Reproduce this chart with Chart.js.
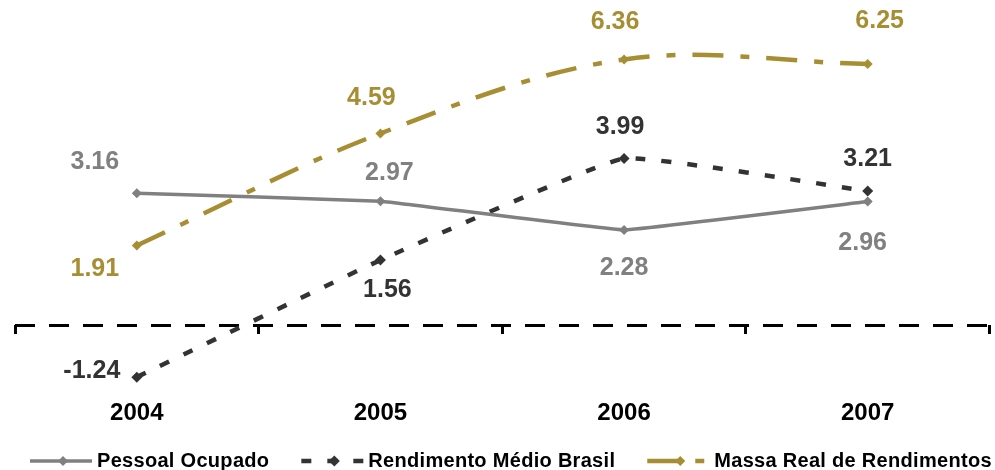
<!DOCTYPE html>
<html>
<head>
<meta charset="utf-8">
<script src="https://cdn.jsdelivr.net/npm/chart.js@4"></script>
<style>
  body { margin: 0; background: #fff; }
  #wrap { width: 995px; height: 470px; }
</style>
</head>
<body>
<div id="wrap"><canvas id="chart" width="995" height="470"></canvas></div>
<script>
// data
var years = ["2004", "2005", "2006", "2007"];
var pessoalOcupado = [3.16, 2.97, 2.28, 2.96];
var rendimentoMedio = [-1.24, 1.56, 3.99, 3.21];
var massaReal = [1.91, 4.59, 6.36, 6.25];
var seriesNames = ["Pessoal Ocupado", "Rendimento Médio Brasil", "Massa Real de Rendimentos"];

var gray = "#808080";
var dark = "#333333";
var gold = "#A88E33";

// where each value label sits relative to its point (dx, dy)
var labelOffsets = [
  [[-42, -31], [9, -28], [0, 38], [-5, 42]],
  [[-45, -6], [7, 30], [-4, -31], [0, -32]],
  [[-42, 24], [-9, -35], [-9, -37], [12, -43]],
];

const valueLabels = {
  id: "valueLabels",
  afterDatasetsDraw(chart) {
    const ctx = chart.ctx;
    ctx.save();
    ctx.font = "bold 25px 'Liberation Sans', Arial, sans-serif";
    ctx.textAlign = "center";
    ctx.textBaseline = "middle";
    chart.data.datasets.forEach((ds, i) => {
      const meta = chart.getDatasetMeta(i);
      ctx.fillStyle = ds.borderColor;
      meta.data.forEach((pt, j) => {
        const off = labelOffsets[i][j];
        ctx.fillText(ds.data[j].toFixed(2), pt.x + off[0], pt.y + off[1]);
      });
    });
    ctx.restore();
  },
};

function diamond(ctx, x, y, r, color) {
  ctx.fillStyle = color;
  ctx.beginPath();
  ctx.moveTo(x, y - r);
  ctx.lineTo(x + r, y);
  ctx.lineTo(x, y + r);
  ctx.lineTo(x - r, y);
  ctx.closePath();
  ctx.fill();
}

const lineLegend = {
  id: "lineLegend",
  afterDraw(chart) {
    const ctx = chart.ctx;
    const y = 461;
    let x = 30;
    ctx.save();
    ctx.font = "bold 20px 'Liberation Sans', Arial, sans-serif";
    ctx.letterSpacing = "0.3px";
    ctx.textBaseline = "middle";
    ctx.textAlign = "left";
    chart.data.datasets.forEach((ds) => {
      ctx.strokeStyle = ds.borderColor;
      ctx.lineWidth = ds.borderWidth;
      ctx.setLineDash(ds.borderDash || []);
      ctx.beginPath();
      ctx.moveTo(x, y);
      ctx.lineTo(x + 62, y);
      ctx.stroke();
      ctx.setLineDash([]);
      diamond(ctx, x + 33, y, ds.pointRadius, ds.borderColor);
      ctx.fillStyle = "#000";
      ctx.fillText(ds.label, x + 67, y);
      x += 67 + ctx.measureText(ds.label).width + 32;
    });
    ctx.restore();
  },
};

function series(label, data, color, dash, width, radius, tension) {
  return {
    label: label,
    data: data,
    borderColor: color,
    backgroundColor: color,
    borderWidth: width,
    borderDash: dash,
    pointStyle: "rectRot",
    pointRadius: radius,
    pointBorderWidth: 0,
    pointBackgroundColor: color,
    tension: tension,
    clip: false,
  };
}

new Chart(document.getElementById("chart"), {
  type: "line",
  data: {
    labels: years,
    datasets: [
      series(seriesNames[0], pessoalOcupado, gray, [], 3.5, 5, 0.05),
      series(seriesNames[1], rendimentoMedio, dark, [10, 16], 4.5, 5.5, 0.1),
      series(seriesNames[2], massaReal, gold, [31, 17, 9, 17], 4.5, 5, 0.35),
    ],
  },
  options: {
    responsive: false,
    animation: false,
    layout: { padding: { left: 15, right: 3, top: 0, bottom: 42 } },
    plugins: {
      legend: { display: false },
      tooltip: { enabled: false },
    },
    scales: {
      x: {
        offset: true,
        afterFit: (axis) => {
          axis.height = 40;
        },
        grid: { display: false },
        border: { display: false },
        ticks: {
          color: "#000",
          padding: 3,
          font: { family: "'Liberation Sans', Arial, sans-serif", size: 24, weight: "bold" },
        },
      },
      x2: {
        type: "category",
        axis: "x",
        position: { y: 0 },
        offset: true,
        grid: {
          offset: true,
          drawOnChartArea: false,
          tickLength: 9,
          tickWidth: 3,
          tickColor: "#000",
          color: "#000",
        },
        border: { display: false },
        ticks: { display: false },
      },
      y: {
        min: -1.5,
        max: 7.65,
        afterBuildTicks: (axis) => {
          axis.ticks = [{ value: 0 }];
        },
        ticks: { display: false },
        grid: { drawTicks: false, color: "#000", lineWidth: 3 },
        border: { display: false, dash: [20, 14] },
      },
    },
  },
  plugins: [valueLabels, lineLegend],
});
</script>
</body>
</html>
